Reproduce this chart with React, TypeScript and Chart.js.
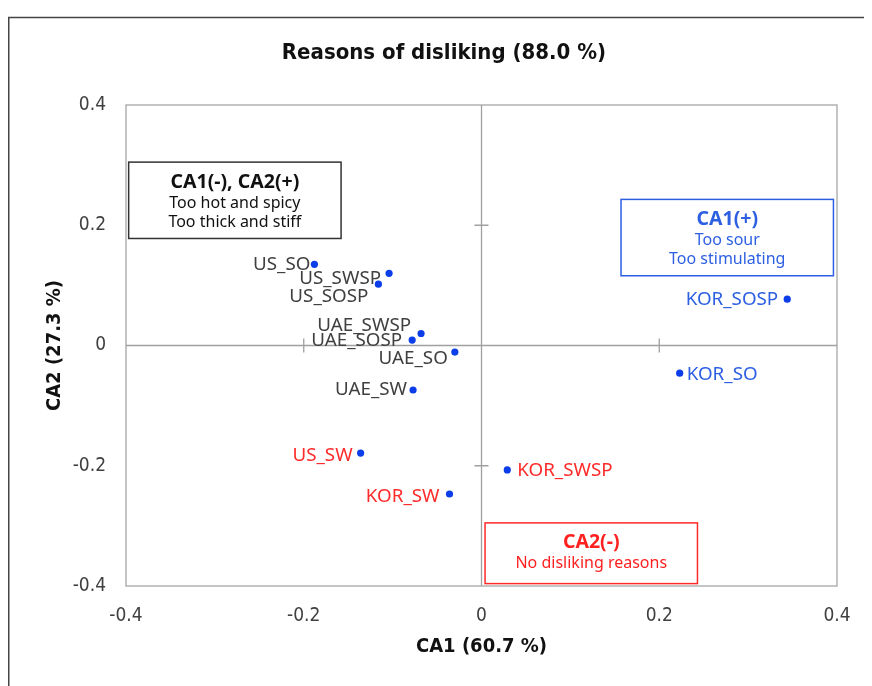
import React, { useEffect, useRef } from "react";
import { Chart, registerables } from "chart.js";

Chart.register(...registerables);

const sampleNames = ["US_SO", "US_SWSP", "US_SOSP", "UAE_SWSP", "UAE_SOSP", "UAE_SO", "UAE_SW", "US_SW", "KOR_SW", "KOR_SWSP", "KOR_SO", "KOR_SOSP"];
const ca1Values = [-0.188, -0.104, -0.116, -0.068, -0.078, -0.030, -0.077, -0.136, -0.036, 0.029, 0.223, 0.344];
const ca2Values = [0.135, 0.120, 0.102, 0.020, 0.009, -0.011, -0.074, -0.179, -0.247, -0.207, -0.046, 0.077];
const labelGroups = ["dark", "dark", "dark", "dark", "dark", "dark", "dark", "red", "red", "red", "blue", "blue"];

const axisTicks = [-0.4, -0.2, 0, 0.2, 0.4];
const chartTitle = "Reasons of disliking (88.0 %)";
const xTitle = "CA1 (60.7 %)";
const yTitle = "CA2 (27.3 %)";

const boxHeadings = ["CA1(-), CA2(+)", "CA1(+)", "CA2(-)"];
const boxLines = [["Too hot and spicy", "Too thick and stiff"], ["Too sour", "Too stimulating"], ["No disliking reasons"]];
const boxX1 = [-0.397, 0.157, 0.004];
const boxX2 = [-0.158, 0.396, 0.243];
const boxY1 = [0.305, 0.243, -0.295];
const boxY2 = [0.178, 0.116, -0.396];
const boxGroups = ["dark", "blue", "red"];

// label placement (pixel offsets relative to point) – style only
const labelPlacement: [number, number, "left" | "right"][] = [
  [-4, 0, "right"],
  [-8, 5, "right"],
  [-10, 12, "right"],
  [-10, -8, "right"],
  [-10, 1, "right"],
  [-7, 7, "right"],
  [-6, 0, "right"],
  [-8, 3, "right"],
  [-10, 3, "right"],
  [10, 1, "left"],
  [7, 1, "left"],
  [-9, 0, "right"],
];

const COLORS: Record<string, string> = {
  dark: "#404040",
  red: "#ff2b2b",
  blue: "#2d5fe3",
};
const BOX_TEXT: Record<string, string> = {
  dark: "#111111",
  red: "#ff2020",
  blue: "#2d5fe3",
};
const BOX_BORDER: Record<string, string> = {
  dark: "#333333",
  red: "#ff2b2b",
  blue: "#2d5fe3",
};

const NARROW = "'Liberation Sans Narrow', 'DejaVu Sans Condensed', 'Arial Narrow', sans-serif";
const SANS = "'Noto Sans', 'Open Sans', sans-serif";

const decorPlugin = {
  id: "decor",
  beforeDraw(chart: any) {
    const ctx = chart.ctx;
    ctx.save();
    ctx.fillStyle = "#ffffff";
    ctx.fillRect(0, 0, chart.width, chart.height);
    ctx.strokeStyle = "#444444";
    ctx.lineWidth = 1.5;
    ctx.strokeRect(0.75, 9.5, chart.width + 50, chart.height + 50);
    // title
    ctx.fillStyle = "#111111";
    ctx.font = `bold 22px ${NARROW}`;
    ctx.textAlign = "center";
    ctx.textBaseline = "middle";
    ctx.fillText(chartTitle, chart.width / 2 + 4, 45);
    ctx.restore();
  },
  beforeDatasetsDraw(chart: any) {
    const ctx = chart.ctx;
    const a = chart.chartArea;
    const xs = chart.scales.x;
    const ys = chart.scales.y;
    ctx.save();
    ctx.strokeStyle = "#a6a6a6";
    ctx.lineWidth = 1.3;
    ctx.strokeRect(a.left, a.top, a.right - a.left, a.bottom - a.top);
    const x0 = xs.getPixelForValue(0);
    const y0 = ys.getPixelForValue(0);
    ctx.strokeStyle = "#a0a0a0";
    ctx.beginPath();
    ctx.moveTo(a.left, y0);
    ctx.lineTo(a.right, y0);
    ctx.moveTo(x0, a.top);
    ctx.lineTo(x0, a.bottom);
    axisTicks.forEach((t) => {
      if (t === 0 || Math.abs(t) === 0.4) return;
      const px = xs.getPixelForValue(t);
      ctx.moveTo(px, y0 - 7);
      ctx.lineTo(px, y0 + 7);
      const py = ys.getPixelForValue(t);
      ctx.moveTo(x0 - 7, py);
      ctx.lineTo(x0 + 7, py);
    });
    ctx.stroke();
    // axis titles
    ctx.fillStyle = "#111111";
    ctx.font = `bold 20px ${NARROW}`;
    ctx.textAlign = "center";
    ctx.textBaseline = "middle";
    ctx.fillText(xTitle, (a.left + a.right) / 2, a.bottom + 61);
    ctx.save();
    ctx.translate(47, (a.top + a.bottom) / 2);
    ctx.rotate(-Math.PI / 2);
    ctx.fillText(yTitle, 0, 0);
    ctx.restore();
    // boxes
    for (let i = 0; i < boxHeadings.length; i++) {
      const l = xs.getPixelForValue(boxX1[i]);
      const r = xs.getPixelForValue(boxX2[i]);
      const t = ys.getPixelForValue(boxY1[i]);
      const b = ys.getPixelForValue(boxY2[i]);
      const g = boxGroups[i];
      ctx.fillStyle = "#ffffff";
      ctx.fillRect(l, t, r - l, b - t);
      ctx.strokeStyle = BOX_BORDER[g];
      ctx.lineWidth = 1.5;
      ctx.strokeRect(l, t, r - l, b - t);
      const cx = (l + r) / 2;
      ctx.fillStyle = BOX_TEXT[g];
      ctx.textAlign = "center";
      ctx.textBaseline = "middle";
      ctx.font = `bold 19.5px ${SANS}`;
      ctx.fillText(boxHeadings[i], cx, t + 20);
      ctx.font = `16px ${SANS}`;
      boxLines[i].forEach((line, j) => {
        ctx.fillText(line, cx, t + 41 + j * 19);
      });
    }
    ctx.restore();
  },
  afterDatasetsDraw(chart: any) {
    const ctx = chart.ctx;
    const meta = chart.getDatasetMeta(0);
    ctx.save();
    ctx.font = `18.8px ${SANS}`;
    ctx.textBaseline = "middle";
    meta.data.forEach((pt: any, i: number) => {
      const [dx, dy, align] = labelPlacement[i];
      ctx.fillStyle = COLORS[labelGroups[i]];
      ctx.textAlign = align;
      ctx.fillText(sampleNames[i], pt.x + dx, pt.y + dy);
    });
    ctx.restore();
  },
};

export default function App() {
  const canvasRef = useRef<HTMLCanvasElement | null>(null);
  useEffect(() => {
    if (!canvasRef.current) return;
    const chart = new Chart(canvasRef.current, {
      type: "scatter",
      data: {
        datasets: [
          {
            data: ca1Values.map((x, i) => ({ x, y: ca2Values[i] })),
            backgroundColor: "#0b3ee8",
            borderColor: "#0b3ee8",
            pointRadius: 3.6,
            pointBorderWidth: 0,
          },
        ],
      },
      options: {
        animation: false,
        responsive: false,
        maintainAspectRatio: false,
        layout: { padding: { top: 97, right: 35, bottom: 0, left: 0 } },
        plugins: { legend: { display: false }, tooltip: { enabled: false }, title: { display: false } },
        scales: {
          x: {
            type: "linear",
            min: -0.4,
            max: 0.4,
            afterFit: (s: any) => {
              s.height = 100;
            },
            afterBuildTicks: (s: any) => {
              s.ticks = axisTicks.map((v) => ({ value: v }));
            },
            grid: { display: false, drawTicks: false },
            border: { display: false },
            ticks: {
              padding: 19,
              color: "#404040",
              font: { family: NARROW, size: 19 },
              maxRotation: 0,
              callback: (v: any) => String(Number(Number(v).toFixed(1))),
            },
          },
          y: {
            type: "linear",
            min: -0.4,
            max: 0.4,
            afterFit: (s: any) => {
              s.width = 118;
            },
            afterBuildTicks: (s: any) => {
              s.ticks = axisTicks.map((v) => ({ value: v }));
            },
            grid: { display: false, drawTicks: false },
            border: { display: false },
            ticks: {
              padding: 20,
              color: "#404040",
              font: { family: NARROW, size: 19 },
              callback: (v: any) => String(Number(Number(v).toFixed(1))),
            },
          },
        },
      },
      plugins: [decorPlugin],
    });
    return () => chart.destroy();
  }, []);
  return (
    <div style={{ width: 864, height: 678 }}>
      <canvas ref={canvasRef} width={864} height={678} style={{ display: "block", width: 864, height: 678 }} />
    </div>
  );
}
